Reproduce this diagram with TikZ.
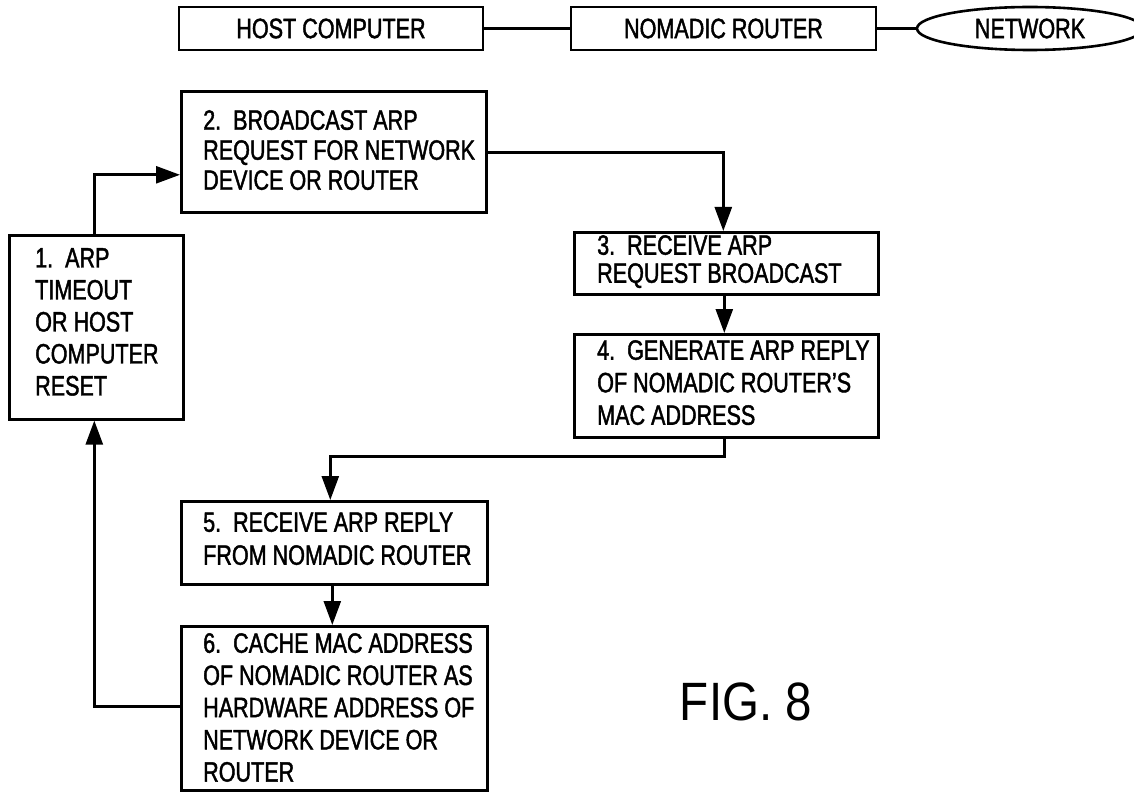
\documentclass[tikz,border=0pt]{standalone}
\usepackage{fontspec}
\setmainfont{Liberation Sans}[FakeStretch=0.77,FakeBold=1.5]
\newfontfamily\figfont{Liberation Sans}[FakeStretch=0.88]
\usetikzlibrary{arrows.meta,shapes.geometric,calc}
\begin{document}
\begin{tikzpicture}[x=1pt,y=-1pt,
  box/.style={draw, line width=2.6pt, rectangle, inner sep=0pt, anchor=north west},
  topbox/.style={draw, line width=2.6pt, rectangle, inner sep=0pt, minimum height=43pt,
                 font=\fontsize{28}{30}\selectfont},
  txt/.style={inner sep=0pt, anchor=north west, align=left},
  flow/.style={line width=2.6pt, -{Triangle[length=24pt,width=17pt]}},
  link/.style={line width=2.6pt}]
\useasboundingbox (0,0) rectangle (1134,794);
\fill[white] (0,0) rectangle (1134,794);

% top row
\node[topbox, minimum width=304pt] (host) at (331,28.5) {HOST COMPUTER};
\node[topbox, minimum width=305pt] (nomad) at (723.5,28.5) {NOMADIC ROUTER};
\node[topbox, ellipse, minimum width=226pt] (net) at (1030,28.5) {NETWORK};
\draw[link] (host.east) -- (nomad.west);
\draw[link] (nomad.east) -- (net.west);

% flow boxes
\node[box, minimum width=174pt, minimum height=184pt] (b1) at (8,234) {};
\node[box, minimum width=305pt, minimum height=121pt] (b2) at (180,90) {};
\node[box, minimum width=304pt, minimum height=62pt]  (b3) at (573,231) {};
\node[box, minimum width=304pt, minimum height=103pt] (b4) at (573,333) {};
\node[box, minimum width=306pt, minimum height=83pt]  (b5) at (180,500) {};
\node[box, minimum width=306pt, minimum height=164pt] (b6) at (180,625) {};

% texts
\node[txt, font=\fontsize{28}{32}\selectfont] (t1) at (35,248)
  {1.\ \ ARP\\TIMEOUT\\OR HOST\\COMPUTER\\RESET};
\node[txt, font=\fontsize{28}{30}\selectfont] (t2) at (203,110)
  {2.\ \ BROADCAST ARP\\REQUEST FOR NETWORK\\DEVICE OR ROUTER};
\node[txt, font=\fontsize{28}{28}\selectfont] (t3) at (597,235)
  {3.\ \ RECEIVE ARP\\REQUEST BROADCAST};
\node[txt, font=\fontsize{28}{32.5}\selectfont] (t4) at (597,340)
  {4.\ \ GENERATE ARP REPLY\\OF NOMADIC ROUTER'S\\MAC ADDRESS};
\node[txt, font=\fontsize{28}{33}\selectfont] (t5) at (203,512)
  {5.\ \ RECEIVE ARP REPLY\\FROM NOMADIC ROUTER};
\node[txt, font=\fontsize{28}{32.2}\selectfont] (t6) at (203,633)
  {6.\ \ CACHE MAC ADDRESS\\OF NOMADIC ROUTER AS\\HARDWARE ADDRESS OF\\NETWORK DEVICE OR\\ROUTER};

% connectors
\draw[flow] ($(b1.north)+(-2,0)$) |- ($(b2.west)+(0,23)$);
\draw[flow] ($(b2.east)+(0,1)$) -| ($(b3.north)+(-3,0)$);
\draw[flow] ($(b3.south)+(-2,0)$) -- ($(b4.north)+(-2,0)$);
\draw[flow] ($(b4.south)+(-2,0)$) -- ++(0,18) -| ($(b5.north)+(-4,0)$);
\draw[flow] ($(b5.south)+(-2,0)$) -- ($(b6.north)+(-2,0)$);
\draw[flow] ($(b6.west)+(0,-2)$) -| ($(b1.south)+(-2,0)$);

% caption
\node[inner sep=0pt, font=\figfont\fontsize{54}{54}\selectfont] (fig) at (746,702) {FIG. 8};
\end{tikzpicture}
\end{document}
